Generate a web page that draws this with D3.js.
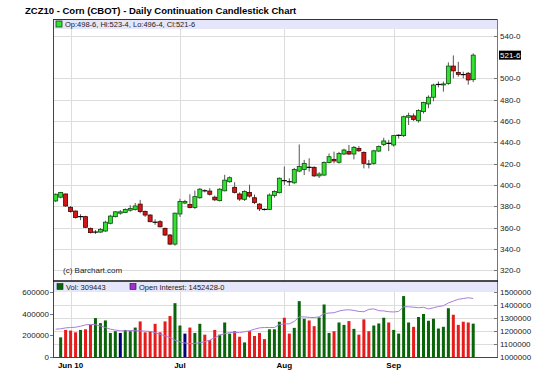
<!DOCTYPE html>
<html>
<head>
<meta charset="utf-8">
<script src="https://cdnjs.cloudflare.com/ajax/libs/d3/7.8.5/d3.min.js"></script>
<style>
  html, body { margin: 0; padding: 0; background: #fff; }
  svg { display: block; font-family: "Liberation Sans", Arial, sans-serif; }
</style>
</head>
<body>
<div id="chart"></div>
<script>
// ZCZ10 corn daily candles + volume / open interest

const dates = [
  '2010-05-26', '2010-05-27', '2010-05-28',
  '2010-06-01', '2010-06-02', '2010-06-03', '2010-06-04', '2010-06-07', '2010-06-08', '2010-06-09',
  '2010-06-10', '2010-06-11', '2010-06-14', '2010-06-15', '2010-06-16', '2010-06-17', '2010-06-18',
  '2010-06-21', '2010-06-22', '2010-06-23', '2010-06-24', '2010-06-25', '2010-06-28', '2010-06-29', '2010-06-30',
  '2010-07-01', '2010-07-02', '2010-07-06', '2010-07-07', '2010-07-08', '2010-07-09', '2010-07-12',
  '2010-07-13', '2010-07-14', '2010-07-15', '2010-07-16', '2010-07-19', '2010-07-20', '2010-07-21',
  '2010-07-22', '2010-07-23', '2010-07-26', '2010-07-27', '2010-07-28', '2010-07-29', '2010-07-30',
  '2010-08-02', '2010-08-03', '2010-08-04', '2010-08-05', '2010-08-06', '2010-08-09', '2010-08-10',
  '2010-08-11', '2010-08-12', '2010-08-13', '2010-08-16', '2010-08-17', '2010-08-18', '2010-08-19',
  '2010-08-20', '2010-08-23', '2010-08-24', '2010-08-25', '2010-08-26', '2010-08-27', '2010-08-30', '2010-08-31',
  '2010-09-01', '2010-09-02', '2010-09-03', '2010-09-07', '2010-09-08', '2010-09-09', '2010-09-10',
  '2010-09-13', '2010-09-14', '2010-09-15', '2010-09-16', '2010-09-17', '2010-09-20', '2010-09-21',
  '2010-09-22', '2010-09-23', '2010-09-24'
];

const opens = [
  385.0, 388.5, 391.5, 379.0, 375.5, 370.25, 370.25, 359.25, 355.75, 355.75,
  356.75, 364.0, 370.25, 373.5, 374.25, 376.25, 377.0, 382.0, 375.0, 371.75,
  365.0, 365.5, 359.25, 353.0, 344.5, 372.75, 383.0, 381.75, 378.75, 388.0,
  394.5, 394.25, 388.5, 385.25, 394.5, 403.0, 397.75, 391.5, 386.5, 393.0,
  388.0, 382.0, 377.0, 377.0, 390.0, 392.75, 404.0, 403.0, 402.0, 413.0,
  414.5, 416.5, 416.5, 408.5, 409.25, 421.0, 424.0, 421.25, 429.0, 431.25,
  429.0, 434.25, 430.5, 419.5, 420.25, 431.75, 438.0, 439.0, 437.5, 446.5,
  446.25, 463.5, 464.75, 460.25, 468.75, 476.0, 482.25, 494.25, 494.0, 495.25,
  511.5, 505.5, 503.5, 504.75, 498.75
];
const highs = [
  392.0, 393.5, 392.0, 380.25, 376.0, 372.5, 371.0, 360.0, 357.75, 359.5,
  366.5, 372.0, 375.5, 376.5, 378.0, 381.0, 383.0, 386.0, 376.0, 372.5,
  367.75, 367.0, 360.0, 354.0, 374.0, 387.0, 386.0, 391.25, 394.75, 397.0,
  396.0, 397.0, 390.0, 397.0, 409.5, 408.0, 402.5, 393.0, 395.0, 400.25,
  391.0, 383.0, 378.0, 392.0, 395.0, 407.0, 417.25, 406.25, 416.0, 438.0,
  423.5, 425.0, 417.5, 412.0, 422.0, 429.5, 431.25, 431.0, 434.0, 437.5,
  436.5, 436.5, 431.5, 423.5, 433.0, 437.0, 444.25, 442.25, 447.0, 447.5,
  465.0, 467.75, 467.0, 471.0, 478.0, 484.0, 495.0, 497.0, 497.0, 515.0,
  521.5, 515.5, 506.25, 506.0, 523.5
];
const lows = [
  384.0, 387.5, 379.5, 374.0, 368.5, 367.0, 359.5, 354.5, 354.0, 355.0,
  356.0, 363.0, 369.5, 372.0, 373.5, 375.0, 376.0, 373.5, 370.0, 365.0,
  362.5, 360.0, 352.0, 343.5, 343.0, 370.0, 382.0, 378.0, 377.5, 387.0,
  393.0, 390.0, 385.0, 384.5, 394.0, 402.0, 392.0, 385.0, 385.0, 388.0,
  382.0, 375.5, 376.0, 376.5, 388.0, 392.0, 400.0, 399.0, 401.0, 412.0,
  409.25, 412.5, 407.5, 406.5, 408.5, 420.25, 420.25, 420.0, 428.0, 428.0,
  424.0, 431.0, 415.5, 415.5, 419.0, 431.0, 436.5, 431.75, 436.0, 443.5,
  445.0, 456.25, 460.0, 458.5, 467.0, 472.0, 478.5, 491.5, 487.5, 494.0,
  500.0, 501.5, 500.0, 494.0, 496.5
];
const closes = [
  391.25, 393.0, 380.25, 375.0, 369.5, 370.25, 360.25, 355.25, 355.75, 358.25,
  365.0, 370.75, 374.75, 374.75, 377.0, 378.0, 380.25, 375.0, 371.75, 365.5,
  365.0, 360.75, 353.0, 344.5, 373.5, 384.5, 384.5, 378.75, 389.0, 396.0,
  394.5, 391.25, 386.0, 396.0, 404.5, 406.75, 393.0, 386.75, 393.75, 389.5,
  383.5, 377.5, 377.0, 390.5, 393.75, 406.25, 404.0, 403.0, 414.5, 417.25,
  420.25, 416.5, 408.5, 410.25, 421.0, 426.5, 422.5, 429.5, 432.75, 429.0,
  435.25, 432.0, 420.25, 419.5, 432.0, 436.0, 441.25, 439.0, 446.25, 446.5,
  464.0, 465.0, 461.5, 469.75, 477.25, 482.25, 493.75, 494.25, 494.75, 511.5,
  507.0, 503.75, 503.5, 498.5, 521.75
];

// first session has no volume bar on the chart
const volumes = [
  null, 182000, 251000, 245000, 229000, 251000, 257000, 298000, 361000, 314000,
  339000, 223000, 239000, 223000, 251000, 239000, 273000, 330000, 229000, 239000,
  308000, 229000, 330000, 380000, 499000, 292000, 217000, 273000, 223000, 308000,
  207000, 157000, 251000, 207000, 320000, 217000, 239000, 188000, 135000, 239000,
  195000, 223000, 166000, 257000, 257000, 327000, 364000, 217000, 270000, 518000,
  355000, 339000, 286000, 367000, 487000, 223000, 239000, 320000, 298000, 333000,
  261000, 207000, 349000, 239000, 292000, 311000, 364000, 320000, 251000, 217000,
  565000, 320000, 280000, 371000, 399000, 336000, 355000, 264000, 280000, 452000,
  392000, 298000, 327000, 320000, 309443
];
const openInterest = [
  1215000, 1218000, 1225000, 1228000, 1230000, 1238000, 1248000, 1252000, 1250000, 1240000,
  1228000, 1215000, 1208000, 1203000, 1202000, 1205000, 1203000, 1202000, 1200000, 1198000,
  1188000, 1176000, 1163000, 1150000, 1130000, 1117000, 1108000, 1104000, 1105000, 1110000,
  1118000, 1130000, 1150000, 1168000, 1180000, 1189000, 1190000, 1189000, 1195000, 1202000,
  1215000, 1225000, 1228000, 1228000, 1228000, 1250000, 1256000, 1256000, 1275000, 1310000,
  1310000, 1306000, 1305000, 1310000, 1335000, 1340000, 1342000, 1355000, 1363000, 1365000,
  1360000, 1352000, 1350000, 1368000, 1372000, 1358000, 1356000, 1350000, 1348000, 1352000,
  1388000, 1388000, 1385000, 1381000, 1384000, 1372000, 1380000, 1390000, 1396000, 1418000,
  1432000, 1446000, 1452000, 1458000, 1452428
];

const priceTicks = [320, 340, 360, 380, 400, 420, 440, 460, 480, 500, 540];
const volumeTicks = [0, 200000, 400000, 600000];
const oiTicks = [1000000, 1100000, 1200000, 1300000, 1400000, 1500000];
const monthDates = ['2010-06-01', '2010-07-01', '2010-08-02', '2010-09-01'];
const monthLabels = ['Jun 10', 'Jul', 'Aug', 'Sep'];

const W = 550, H = 372;
const left = 53, right = 497;
const pTop = 19, pBottom = 281;
const vTop = 281, vBottom = 357;

const eighths = v => `${Math.floor(v)}-${Math.round((v - Math.floor(v)) * 8)}`;

const svg = d3.select('#chart').append('svg')
  .attr('width', W)
  .attr('height', H);

const x = d3.scaleBand().domain(dates).range([53.2, 475.7]);
const cx = d => x(d) + x.bandwidth() / 2;
const yPrice = d3.scaleLinear().domain([320, 540]).range([270.2, 35.7]);
const yVol = d3.scaleLinear().domain([0, 600000]).range([vBottom, 292.3]);
const yOI = d3.scaleLinear().domain([1000000, 1500000]).range([vBottom, 292.3]);

const candles = dates.map((d, i) => ({
  date: d, o: opens[i], h: highs[i], l: lows[i], c: closes[i],
  v: volumes[i], oi: openInterest[i], prev: i > 0 ? closes[i - 1] : null
}));

// title
svg.append('text')
  .attr('x', 25).attr('y', 14)
  .style('font-size', '9.5px').style('font-weight', 'bold')
  .text('ZCZ10 - Corn (CBOT) - Daily Continuation Candlestick Chart');

// ---- price panel ----
const grid = svg.append('g').style('stroke', '#dcdcdc').style('stroke-width', 1);
grid.selectAll('line.h')
  .data(priceTicks)
  .enter().append('line')
  .attr('x1', left).attr('x2', right)
  .attr('y1', d => Math.round(yPrice(d)) + 0.5)
  .attr('y2', d => Math.round(yPrice(d)) + 0.5);
grid.selectAll('line.v')
  .data(monthDates)
  .enter().append('line')
  .attr('x1', d => Math.round(cx(d)) + 0.5).attr('x2', d => Math.round(cx(d)) + 0.5)
  .attr('y1', pTop).attr('y2', vBottom);
grid.selectAll('line.vh')
  .data(oiTicks.slice(1, -1))
  .enter().append('line')
  .attr('x1', left).attr('x2', right)
  .attr('y1', d => Math.round(yOI(d)) + 0.5)
  .attr('y2', d => Math.round(yOI(d)) + 0.5);

svg.append('text')
  .attr('x', 63).attr('y', 273)
  .style('font-size', '8px').style('fill', '#222')
  .text('(c) Barchart.com');

// wicks
svg.append('g').selectAll('line')
  .data(candles)
  .enter().append('line')
  .attr('x1', d => cx(d.date)).attr('x2', d => cx(d.date))
  .attr('y1', d => yPrice(d.h)).attr('y2', d => yPrice(d.l))
  .style('stroke', '#555').style('stroke-width', 1);

// bodies
svg.append('g').selectAll('rect')
  .data(candles.filter(d => d.o !== d.c))
  .enter().append('rect')
  .attr('x', d => cx(d.date) - 2)
  .attr('width', 4)
  .attr('y', d => yPrice(Math.max(d.o, d.c)))
  .attr('height', d => Math.max(1, Math.abs(yPrice(d.o) - yPrice(d.c))))
  .style('fill', d => d.c > d.o ? '#33e033' : '#d01818')
  .style('stroke', d => d.c > d.o ? '#0b4d0b' : '#4a0000')
  .style('stroke-width', 0.8);

// doji
svg.append('g').selectAll('line')
  .data(candles.filter(d => d.o === d.c))
  .enter().append('line')
  .attr('x1', d => cx(d.date) - 2.5).attr('x2', d => cx(d.date) + 2.5)
  .attr('y1', d => yPrice(d.c)).attr('y2', d => yPrice(d.c))
  .style('stroke', '#000').style('stroke-width', 1.2);

// price axis
const pAxis = svg.append('g').attr('transform', `translate(${right},0)`);
pAxis.append('line')
  .attr('x1', 0.5).attr('x2', 0.5).attr('y1', pTop).attr('y2', pBottom)
  .style('stroke', '#777');
pAxis.selectAll('g.tick')
  .data(priceTicks)
  .enter().append('g')
  .attr('transform', d => `translate(0,${Math.round(yPrice(d)) + 0.5})`)
  .each(function(d) {
    const g = d3.select(this);
    g.append('line').attr('x1', -3).attr('x2', 1).style('stroke', '#777');
    g.append('text').attr('x', 3).attr('dy', '0.33em')
      .style('font-size', '8px').style('fill', '#222')
      .text(`${d}-0`);
  });

// last price marker
const last = candles[candles.length - 1];
pAxis.append('rect')
  .attr('x', 2).attr('y', yPrice(last.c) - 4.5)
  .attr('width', 22).attr('height', 9)
  .style('fill', '#000');
pAxis.append('text')
  .attr('x', 3).attr('y', yPrice(last.c)).attr('dy', '0.33em')
  .style('font-size', '8px').style('fill', '#fff')
  .text(eighths(last.c));

// price legend
svg.append('rect')
  .attr('x', left).attr('y', pTop).attr('width', right - left).attr('height', 10)
  .style('fill', '#e6e6fa');
svg.append('rect')
  .attr('x', 56).attr('y', pTop + 2).attr('width', 6).attr('height', 6)
  .style('fill', '#33e033').style('stroke', '#0b4d0b').style('stroke-width', 0.8);
svg.append('text')
  .attr('x', 65).attr('y', pTop + 8)
  .style('font-size', '7.5px').style('fill', '#222')
  .text(`Op:${eighths(last.o)}, Hi:${eighths(last.h)}, Lo:${eighths(last.l)}, Cl:${eighths(last.c)}`);

// ---- volume panel ----
const volBars = candles.filter(d => d.v !== null);
svg.append('g').selectAll('rect')
  .data(volBars)
  .enter().append('rect')
  .attr('x', d => cx(d.date) - 1.5)
  .attr('width', 3)
  .attr('y', d => yVol(d.v))
  .attr('height', d => yVol(0) - yVol(d.v))
  .style('fill', d => d.c > d.prev ? '#0a650a' : (d.c < d.prev ? '#e61c1c' : '#00007a'));

svg.append('path')
  .datum(candles)
  .attr('d', d3.line().x(d => cx(d.date)).y(d => yOI(d.oi)))
  .style('fill', 'none')
  .style('stroke', '#a97ddb')
  .style('stroke-width', 1);

// volume legend
svg.append('rect')
  .attr('x', left).attr('y', vTop).attr('width', right - left).attr('height', 11)
  .style('fill', '#e6e6fa');
svg.append('rect')
  .attr('x', 57).attr('y', vTop + 2.5).attr('width', 6).attr('height', 6)
  .style('fill', '#0a650a').style('stroke', '#033').style('stroke-width', 0.6);
svg.append('text')
  .attr('x', 66).attr('y', vTop + 8.5)
  .style('font-size', '7.5px').style('fill', '#222')
  .text(`Vol: ${last.v}`);
svg.append('rect')
  .attr('x', 130).attr('y', vTop + 2.5).attr('width', 6).attr('height', 6)
  .style('fill', '#9933cc').style('stroke', '#303').style('stroke-width', 0.6);
svg.append('text')
  .attr('x', 139).attr('y', vTop + 8.5)
  .style('font-size', '7.5px').style('fill', '#222')
  .text(`Open Interest: ${last.oi}-0`);

// volume axes
const vAxisL = svg.append('g').attr('transform', `translate(${left},0)`);
vAxisL.selectAll('g.tick')
  .data(volumeTicks)
  .enter().append('g')
  .attr('transform', d => `translate(0,${Math.round(yVol(d)) + 0.5})`)
  .each(function(d) {
    const g = d3.select(this);
    g.append('line').attr('x1', -3).attr('x2', 0).style('stroke', '#777');
    g.append('text').attr('x', -4).attr('dy', '0.33em')
      .attr('text-anchor', 'end')
      .style('font-size', '8px').style('fill', '#222')
      .text(d);
  });

const vAxisR = svg.append('g').attr('transform', `translate(${right},0)`);
vAxisR.append('line')
  .attr('x1', 0.5).attr('x2', 0.5).attr('y1', vTop).attr('y2', vBottom)
  .style('stroke', '#777');
vAxisR.selectAll('g.tick')
  .data(oiTicks)
  .enter().append('g')
  .attr('transform', d => `translate(0,${Math.round(yOI(d)) + 0.5})`)
  .each(function(d) {
    const g = d3.select(this);
    g.append('line').attr('x1', -3).attr('x2', 1).style('stroke', '#777');
    g.append('text').attr('x', 3).attr('dy', '0.33em')
      .style('font-size', '8px').style('fill', '#222')
      .text(d);
  });

// frame lines
svg.append('line')
  .attr('x1', left + 0.5).attr('x2', left + 0.5).attr('y1', pTop).attr('y2', vBottom)
  .style('stroke', '#444');
svg.append('line')
  .attr('x1', left).attr('x2', right).attr('y1', pTop + 0.5).attr('y2', pTop + 0.5)
  .style('stroke', '#333');
svg.append('line')
  .attr('x1', left).attr('x2', right + 1).attr('y1', vTop).attr('y2', vTop)
  .style('stroke', '#111').style('stroke-width', 1.5);
svg.append('line')
  .attr('x1', left).attr('x2', right + 1).attr('y1', vBottom + 0.5).attr('y2', vBottom + 0.5)
  .style('stroke', '#444');

// month labels
svg.append('g').selectAll('text')
  .data(monthDates)
  .enter().append('text')
  .attr('x', d => cx(d))
  .attr('y', 368)
  .attr('text-anchor', 'middle')
  .style('font-size', '8px').style('font-weight', 'bold')
  .text((d, i) => monthLabels[i]);
</script>
</body>
</html>
